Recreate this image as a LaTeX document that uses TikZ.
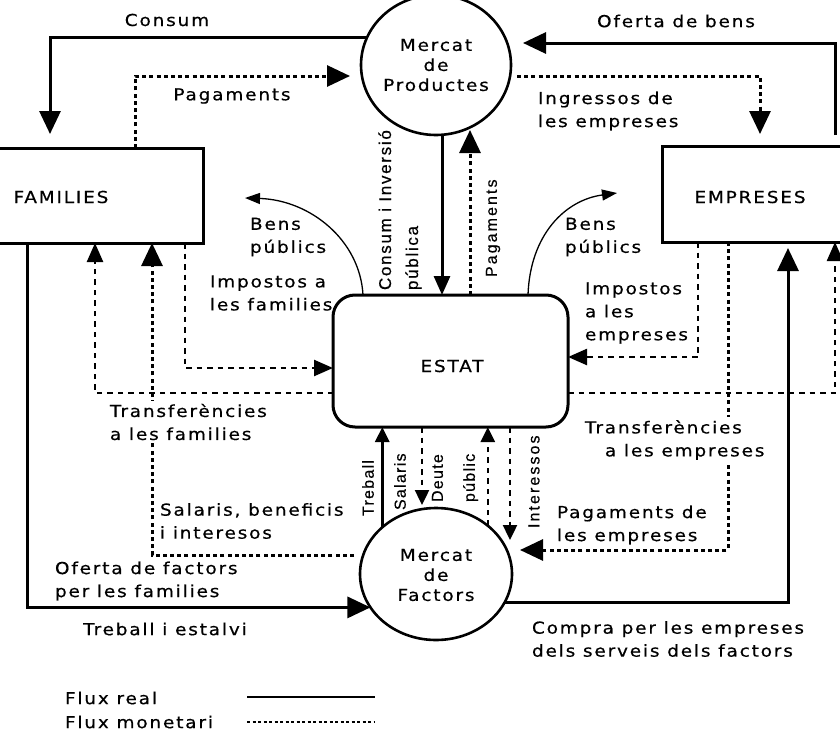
\documentclass[tikz,border=0pt]{standalone}
\usepackage{fontspec}
\setmainfont{DejaVu Sans}
\newfontfamily\spacedfam{DejaVu Sans}[LetterSpace=11,FakeStretch=1.12,FakeBold=0.5]
\newfontfamily\rotfam{Liberation Sans}[LetterSpace=8,FakeBold=0.5]
\newfontfamily\rotcfam{Liberation Sans}[LetterSpace=10,FakeBold=0.5]
\newfontfamily\rotwfam{Liberation Sans}[LetterSpace=13,FakeBold=0.5]
\usetikzlibrary{arrows.meta,shapes.geometric}
\tikzset{
  bigtri/.tip={Triangle[length=23pt,width=21pt]},
  medtri/.tip={Triangle[length=19pt,width=16pt]},
  smtri/.tip={Triangle[length=15pt,width=14pt]},
  benstri/.tip={Triangle[length=15pt,width=11pt]},
}
\begin{document}
\begin{tikzpicture}[x=1pt,y=-1pt,
  every node/.style={inner sep=0pt,outer sep=0pt},
  txt/.style={font={\spacedfam\fontsize{16.5}{23}\selectfont},align=left},
  circtxt/.style={font={\spacedfam\fontsize{16.5}{20}\selectfont},align=center},
  rottxt/.style={font={\rotfam\fontsize{16}{26}\selectfont},align=left,rotate=90,anchor=west},
  box/.style={draw,line width=3pt,rectangle},
  circ/.style={draw,line width=2.6pt,ellipse},
  real/.style={line width=3pt},
  money/.style={line width=3pt,dash pattern=on 4pt off 3.2pt},
  dsh/.style={line width=2.4pt,dash pattern=on 5.5pt off 5pt},
  thinl/.style={line width=1.3pt},
  legdot/.style={line width=2.2pt,dash pattern=on 3pt off 2.5pt},
  cover/.style={fill=white,inner ysep=3pt,inner xsep=1pt}
]
\useasboundingbox (0,0) rectangle (840,736);
\clip (0,0) rectangle (840,736);

% main nodes
\node[box,minimum width=233,minimum height=95] (fam) at (86.5,195.5) {};
\node[txt] (famt) at (61,197) {FAMILIES};
\node[box,minimum width=208,minimum height=96] (emp) at (766,194) {};
\node[txt] (empt) at (750,197) {EMPRESES};
\node[box,rounded corners=22pt,minimum width=235,minimum height=132] (estat) at (450.5,361) {};
\node[txt] (estatt) at (452,366) {ESTAT};
\node[circ,minimum width=150,minimum height=140] (prod) at (436,65) {};
\node[circtxt] (prodt) at (436,65) {Mercat\\de\\Productes};
\node[circ,minimum width=152,minimum height=132] (fact) at (436,574) {};
\node[circtxt] (factt) at (436,575) {Mercat\\de\\Factors};

% free ends
\coordinate (consumEnd) at (50,134);
\coordinate (pagEnd) at (350,76);
\coordinate (ofEnd) at (523,43);
\coordinate (ingEnd) at (760,134);
\coordinate (pagUpEnd) at (470,130);
\coordinate (bensL) at (245,198);
\coordinate (bensR) at (617,193);
\coordinate (pagEmpEnd) at (520,550);
\coordinate (salEnd) at (422,505);
\coordinate (intEnd) at (510,540);
\coordinate (compEnd) at (788,248);

% connectors
\draw[real,-{bigtri}] (prod.158) -| (consumEnd);
\draw[money,-{bigtri}] (fam.north -| 135,0) |- (pagEnd);
\draw[real,-{bigtri},shorten <=11pt] (emp.north -| 835,0) |- (ofEnd);
\draw[money,-{bigtri},shorten <=6pt] (prod.east |- 0,76) -| (ingEnd);
\draw[real,-{medtri}] (prod.south -| 442,0) -- (estat.north -| 442,0);
\draw[money,-{bigtri}] (estat.north -| 470,0) -- (pagUpEnd);
\draw[thinl,-{benstri}] (estat.north -| 363,0) .. controls (360,240) and (310,200) .. (bensL);
\draw[thinl,-{benstri}] (estat.north -| 528,0) .. controls (530,235) and (565,200) .. (bensR);
\draw[dsh,-{medtri}] (fam.south -| 185,0) |- (estat.west |- 0,368);
\draw[dsh,-{medtri}] (estat.west |- 0,393) -| (fam.south -| 95,0);
\draw[money,-{bigtri},shorten <=6pt] (fact.west |- 0,555) -| (fam.south -| 152,0);
\draw[dsh,-{medtri}] (emp.south -| 698,0) |- (estat.east |- 0,357);
\draw[dsh,-{medtri}] (estat.east |- 0,393) -| (emp.south -| 835,0);
\draw[money,-{bigtri}] (emp.south -| 728,0) |- (pagEmpEnd);
\draw[real,-{smtri}] (fact.139) -- (fact.139 |- estat.south);
\draw[dsh,-{smtri}] (estat.south -| 422,0) -- (salEnd);
\draw[dsh,-{smtri}] (fact.43) -- (fact.43 |- estat.south);
\draw[dsh,-{smtri}] (estat.south -| 510,0) -- (intEnd);
\draw[real,-{bigtri}] (fam.south -| 27,0) |- (fact.207);
\draw[real,-{bigtri}] (fact.337) -| (compEnd);

% labels
\node[txt] (l1) at (167,20) {Consum};
\node[txt] (l2) at (232,96) {Pagaments};
\node[txt] (l3) at (676,21) {Oferta de bens};
\node[txt,anchor=west] (l4) at (538,111) {Ingressos de\\les empreses};
\node[txt,anchor=west] (l5) at (250,237) {Bens\\públics};
\node[txt,anchor=west] (l6) at (565,237) {Bens\\públics};
\node[txt,anchor=west] (l7) at (210,293) {Impostos a\\les families};
\node[txt,anchor=west] (l8) at (585,313) {Impostos\\a les\\empreses};
\node[txt,cover,anchor=west] (l9) at (109,422) {Transferències\\a les families};
\node[txt,cover,anchor=west] (l10) at (584,440) {Transferències\\\hspace*{20pt}a les empreses};
\node[txt,anchor=west] (l11) at (160,521) {Salaris, beneficis\\i interesos};
\node[txt,anchor=west] (l12) at (557,525) {Pagaments de\\les empreses};
\node[txt,anchor=west] (l13) at (55,581) {Oferta de factors\\per les families};
\node[txt] (l14) at (165,629) {Treball i estalvi};
\node[txt,anchor=west] (l15) at (532,639) {Compra per les empreses\\dels serveis dels factors};

% rotated labels
\node[rottxt,font={\rotcfam\fontsize{17}{27}\selectfont}] (r1) at (400,290) {Consum i Inversió\\pública};
\node[rottxt,font={\rotwfam\fontsize{16}{26}\selectfont}] (r2) at (493,277) {Pagaments};
\node[rottxt] (r3) at (368,516) {Treball};
\node[rottxt] (r4) at (400,510) {Salaris};
\node[rottxt,font={\rotfam\fontsize{16}{32}\selectfont}] (r5) at (455,502) {Deute\\públic};
\node[rottxt,font={\rotwfam\fontsize{16}{26}\selectfont}] (r6) at (534,528) {Interessos};

% legend
\node[txt,anchor=west] (lg1) at (65,698) {Flux real};
\node[txt,anchor=west] (lg2) at (65,722) {Flux monetari};
\coordinate (lgA) at (247,697);
\coordinate (lgB) at (375,697);
\coordinate (lgC) at (247,722);
\coordinate (lgD) at (375,722);
\draw[line width=2.5pt] (lgA) -- (lgB);
\draw[legdot] (lgC) -- (lgD);
\end{tikzpicture}
\end{document}
